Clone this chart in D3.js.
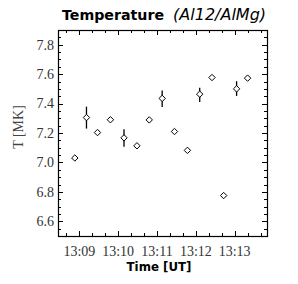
<!DOCTYPE html>
<html><head><meta charset="utf-8">
<script src="https://cdn.jsdelivr.net/npm/d3@7"></script>
<style>body{margin:0;background:#fff}svg{display:block}</style>
</head><body>
<script>
const times = ["13:08:53","13:09:11","13:09:28","13:09:48","13:10:09","13:10:29","13:10:48","13:11:08","13:11:27","13:11:47","13:12:06","13:12:25","13:12:43","13:13:03","13:13:20"];
const temps = [7.03,7.305,7.203,7.29,7.167,7.113,7.289,7.435,7.21,7.082,7.464,7.577,6.775,7.50,7.573];
const errLow = [null,7.23,null,null,7.106,null,null,7.376,null,null,7.41,null,null,7.452,null];
const errHigh = [null,7.379,null,null,7.226,null,null,7.489,null,null,7.507,null,null,7.552,null];
const yTicks = [6.6,6.8,7.0,7.2,7.4,7.6,7.8];
const xTickLabels = ["13:09","13:10","13:11","13:12","13:13"];

const W=298,H=284;
const m={l:58,r:267,t:30,b:236};
const pt = s => { const [h,mi,se]=s.split(":").map(Number); return new Date(Date.UTC(2000,0,1,h,mi,se)); };
const x = d3.scaleUtc().domain([pt("13:08:27"), pt("13:13:50")]).range([m.l,m.r]);
const y = d3.scaleLinear().domain([6.5,7.9]).range([m.b,m.t]);

const svg=d3.select("body").append("svg").attr("width",W).attr("height",H);
svg.append("rect").attr("width",W).attr("height",H).attr("fill","#fff");

const majorX = xTickLabels.map(s=>pt(s+":00"));
const minorX = d3.utcSecond.every(20).range(x.domain()[0], x.domain()[1]);
const minorY = d3.range(6.5,7.9001,0.05);

const g=svg.append("g").attr("stroke","#000").attr("stroke-width",1);
minorX.forEach(t=>{
  const isMaj = majorX.some(d=>+d===+t);
  const L = isMaj?5:3; const xx=Math.round(x(t))+0.5;
  g.append("line").attr("x1",xx).attr("x2",xx).attr("y1",m.b).attr("y2",m.b-L);
  g.append("line").attr("x1",xx).attr("x2",xx).attr("y1",m.t).attr("y2",m.t+L);
});
minorY.forEach(v=>{
  const isMaj = yTicks.some(d=>Math.abs(d-v)<1e-6);
  const L = isMaj?5:3; const yy=Math.round(y(v))+0.5;
  g.append("line").attr("x1",m.l).attr("x2",m.l+L).attr("y1",yy).attr("y2",yy);
  g.append("line").attr("x1",m.r).attr("x2",m.r-L).attr("y1",yy).attr("y2",yy);
});
svg.append("rect").attr("x",m.l+0.5).attr("y",m.t+0.5).attr("width",m.r-m.l).attr("height",m.b-m.t)
  .attr("fill","none").attr("stroke","#000").attr("stroke-width",1.2);

svg.append("g").selectAll("text").data(yTicks).join("text")
  .attr("x",54).attr("y",d=>y(d)).attr("dy","0.35em").attr("text-anchor","end")
  .attr("font-family","Liberation Serif, serif").attr("font-size",14).attr("fill","#333")
  .text(d=>d.toFixed(1));
svg.append("g").selectAll("text").data(xTickLabels).join("text")
  .attr("x",d=>x(pt(d+":00"))).attr("y",256).attr("text-anchor","middle")
  .attr("font-family","Liberation Serif, serif").attr("font-size",14).attr("fill","#333")
  .text(d=>d);

svg.append("text").attr("transform","translate(23,127) rotate(-90)").attr("text-anchor","middle")
  .attr("font-family","Liberation Serif, serif").attr("font-size",14).attr("fill","#444").text("T [MK]");
svg.append("text").attr("x",159).attr("y",271).attr("text-anchor","middle")
  .attr("font-family","DejaVu Sans, sans-serif").attr("font-weight","bold").attr("font-size",11.8).text("Time [UT]");

const title=svg.append("text").attr("x",62).attr("y",20).attr("font-family","DejaVu Sans, sans-serif");
title.append("tspan").attr("font-weight","bold").attr("font-size",14.2).text("Temperature");
title.append("tspan").attr("dx",9).attr("font-style","italic").attr("font-size",16).text("(Al12/AlMg)");

const data = times.map((t,i)=>({t:pt(t),v:temps[i],lo:errLow[i],hi:errHigh[i]}));
svg.append("g").selectAll("line").data(data.filter(d=>d.lo!=null)).join("line")
  .attr("x1",d=>x(d.t)).attr("x2",d=>x(d.t)).attr("y1",d=>y(d.lo)).attr("y2",d=>y(d.hi))
  .attr("stroke","#000").attr("stroke-width",1.3);
svg.append("g").selectAll("path").data(data).join("path")
  .attr("transform",d=>`translate(${x(d.t)},${y(d.v)})`)
  .attr("d","M0,-3.2L3.2,0L0,3.2L-3.2,0Z").attr("fill","#fff").attr("stroke","#000").attr("stroke-width",1);
</script>
</body></html>
